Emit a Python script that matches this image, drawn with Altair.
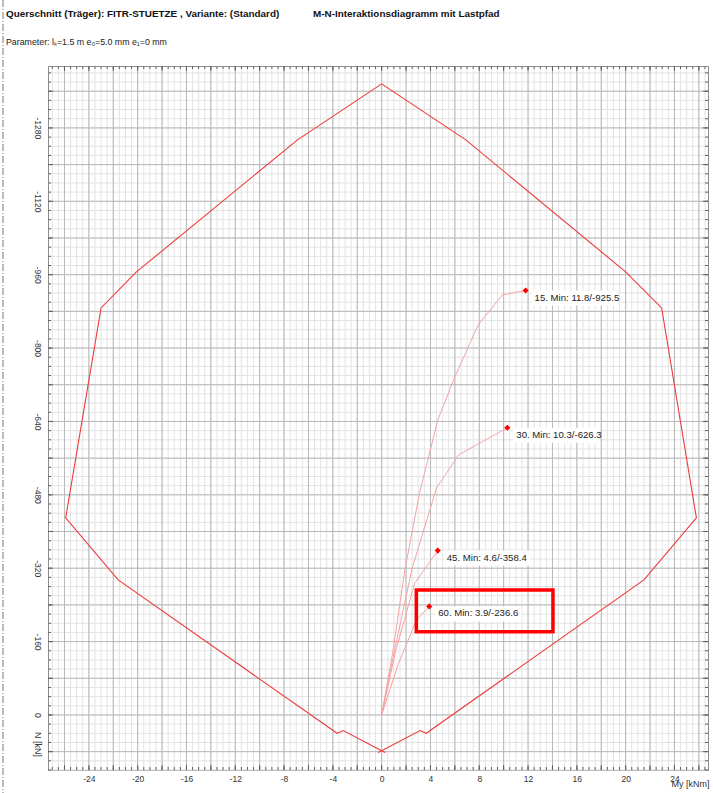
import altair as alt
import pandas as pd
import numpy as np

# ---------------- text ----------------
title_left = "Querschnitt (Träger):  FITR-STUETZE , Variante: (Standard)"
title_right = "M-N-Interaktionsdiagramm mit Lastpfad"
subtitle = "Parameter: lₖ=1.5 m  e₀=5.0 mm  e₁=0 mm"

# ---------------- axes ----------------
x_tick_labels = [-24, -20, -16, -12, -8, -4, 0, 4, 8, 12, 16, 20, 24]
y_tick_labels = [-1280, -1120, -960, -800, -640, -480, -320, -160, 0]
x_domain = [-27.35, 26.75]
y_domain = [-1415, 120]
x_minor_step, x_major_step = 0.5, 2
y_minor_step, y_major_step = 20, 80

# ---------------- interaction diagram (two halves from the apex) ----------------
left_M = [0.0, -6.9, -20.1, -23.0, -25.9, -21.6, -3.65, -3.15, 0.0, 0.3]
left_N = [-1376, -1254, -966, -887.5, -429.6, -294.4, 40, 34, 78, 82]
right_M = [0.0, 6.9, 20.0, 22.95, 25.8, 21.5, 3.65, 3.15, 0.0, -0.3]
right_N = [-1376, -1254, -966, -887.5, -429.6, -294.4, 40, 34, 78, 82]

# ---------------- load paths ----------------
path15_M = [0, 0.9, 1.9, 3.1, 4.6, 6.0, 7.9, 9.9, 11.8]
path15_N = [0, -135, -316, -483, -643, -737, -850, -916, -925.5]
path30_M = [0, 1.05, 2.5, 4.5, 6.3, 10.3]
path30_N = [0, -140, -320, -495, -567, -626.3]
path45_M = [0, 1.15, 2.7, 4.6]
path45_N = [0, -140, -287, -358.4]
path60_M = [0, 1.35, 2.85, 3.9]
path60_N = [0, -110, -207, -236.6]

end_ids = ["15", "30", "45", "60"]
end_M = [11.8, 10.3, 4.6, 3.9]
end_N = [-925.5, -626.3, -358.4, -236.6]

# highlight box (data units)
box_M = [2.84, 14.04]
box_N = [-272.6, -181.6]

W, H = 660, 704

# ---------------- frames ----------------
poly = pd.concat([
    pd.DataFrame({"M": left_M, "N": left_N, "side": "L", "o": range(len(left_M))}),
    pd.DataFrame({"M": right_M, "N": right_N, "side": "R", "o": range(len(right_M))}),
])
paths = pd.concat([
    pd.DataFrame({"M": m, "N": n, "pid": pid, "o": range(len(m))})
    for pid, m, n in [("15", path15_M, path15_N), ("30", path30_M, path30_N),
                      ("45", path45_M, path45_N), ("60", path60_M, path60_N)]
])
ends = pd.DataFrame({"M": end_M, "N": end_N, "pid": end_ids})
ends["label"] = [f"{i}. Min: {m}/{n}" for i, m, n in zip(end_ids, end_M, end_N)]
box = pd.DataFrame({"M0": [box_M[0]], "M1": [box_M[1]], "N0": [box_N[0]], "N1": [box_N[1]]})

x_minor = pd.DataFrame({"v": np.arange(-27, 26.6, x_minor_step)})
x_major = pd.DataFrame({"v": np.arange(-26, 26.1, x_major_step)})
y_minor = pd.DataFrame({"v": np.arange(-1400, 121, y_minor_step)})
y_major = pd.DataFrame({"v": np.arange(-1360, 81, y_major_step)})

xscale = alt.Scale(domain=x_domain, nice=False, zero=False)
yscale = alt.Scale(domain=y_domain, nice=False, zero=False, reverse=True)

FONT = "Liberation Sans"
xaxis = alt.Axis(values=x_tick_labels, grid=False, ticks=False, tickSize=0, domain=False,
                 labelFont=FONT, labelFontSize=8.5, labelColor="#333", labelPadding=4,
                 labelExpr="'' + datum.value", labelFlush=False,
                 title="My [kNm]", titleFont=FONT, titleFontSize=9, titleFontWeight="normal",
                 titleColor="#333", titleX=642, titleY=13, titleAlign="center",
                 titleBaseline="middle")
yaxis = alt.Axis(values=y_tick_labels, grid=False, ticks=False, tickSize=0, domain=False,
                 labelFont=FONT, labelFontSize=8.5, labelColor="#333", labelPadding=11,
                 labelAngle=90, labelAlign="center", labelBaseline="middle",
                 labelExpr="'' + datum.value", labelFlush=False,
                 title="N [kN]", titleFont=FONT, titleFontSize=9, titleFontWeight="normal",
                 titleColor="#333", titleAngle=90, titleX=-11, titleY=678,
                 titleAlign="center", titleBaseline="middle")


def X(f, **kw):
    return alt.X(f, type="quantitative", scale=xscale, axis=xaxis, **kw)


def Y(f, **kw):
    return alt.Y(f, type="quantitative", scale=yscale, axis=yaxis, **kw)


grid_xmin = alt.Chart(x_minor).mark_rule(color="#e3e3e3", strokeWidth=1).encode(x=X("v"))
grid_ymin = alt.Chart(y_minor).mark_rule(color="#e3e3e3", strokeWidth=1).encode(y=Y("v"))
grid_xmaj = alt.Chart(x_major).mark_rule(color="#b8b8b8", strokeWidth=1).encode(x=X("v"))
grid_ymaj = alt.Chart(y_major).mark_rule(color="#b8b8b8", strokeWidth=1).encode(y=Y("v"))

tick_color = "#606060"
ticks = []
for df, size in [(x_minor, 3), (x_major, 5)]:
    ticks.append(alt.Chart(df).mark_rule(color=tick_color).encode(
        x=X("v"), y=alt.value(H), y2=alt.value(H - size)))
    ticks.append(alt.Chart(df).mark_rule(color=tick_color).encode(
        x=X("v"), y=alt.value(0), y2=alt.value(size)))
for df, size in [(y_minor, 3), (y_major, 5)]:
    ticks.append(alt.Chart(df).mark_rule(color=tick_color).encode(
        y=Y("v"), x=alt.value(0), x2=alt.value(size)))
    ticks.append(alt.Chart(df).mark_rule(color=tick_color).encode(
        y=Y("v"), x=alt.value(W), x2=alt.value(W - size)))

poly_layer = alt.Chart(poly).mark_line(color="#ec3b3b", strokeWidth=1.1).encode(
    x=X("M"), y=Y("N"), detail="side:N", order="o:Q")

path_layer = alt.Chart(paths).mark_line(color="#f5a3a3", strokeWidth=1).encode(
    x=X("M"), y=Y("N"), detail="pid:N", order="o:Q")

box_layer = alt.Chart(box).mark_rect(fillOpacity=0, stroke="#ff0000", strokeWidth=3.5).encode(
    x=X("M0"), x2=alt.X2("M1"), y=Y("N0"), y2=alt.Y2("N1"))

label_bg = alt.Chart(ends).mark_rect(color="white", xOffset=6, x2Offset=92,
                                     yOffset=0, y2Offset=15).encode(
    x=X("M"), x2=alt.X2("M"), y=Y("N"), y2=alt.Y2("N"))

label_text = alt.Chart(ends).mark_text(align="left", baseline="middle", dx=9, dy=7,
                                       font=FONT, fontSize=9.6, color="#222").encode(
    x=X("M"), y=Y("N"), text="label:N")

markers = alt.Chart(ends).mark_point(shape="diamond", filled=True, color="#ff0000",
                                     size=38, opacity=1).encode(x=X("M"), y=Y("N"))

one = alt.Data(values=[{"a": 1}])
t1 = alt.Chart(pd.DataFrame({"t": [title_left]})).mark_text(
    align="left", baseline="middle", font=FONT, fontSize=9.9, fontWeight="bold",
    color="#111").encode(x=alt.value(-42), y=alt.value(-52), text="t:N")
t2 = alt.Chart(pd.DataFrame({"t": [title_right]})).mark_text(
    align="left", baseline="middle", font=FONT, fontSize=9.9, fontWeight="bold",
    color="#111").encode(x=alt.value(265), y=alt.value(-52), text="t:N")
t3 = alt.Chart(pd.DataFrame({"t": [subtitle]})).mark_text(
    align="left", baseline="middle", font=FONT, fontSize=8.8, color="#222").encode(
    x=alt.value(-42), y=alt.value(-24), text="t:N")
frame = alt.Chart(one).mark_rule(color="#777", strokeWidth=1, strokeDash=[7, 2, 1, 2]).encode(
    x=alt.value(-45), y=alt.value(-66), y2=alt.value(H + 23))

chart = alt.layer(
    grid_xmin, grid_ymin, grid_xmaj, grid_ymaj, *ticks,
    poly_layer, path_layer, box_layer, label_bg, label_text, markers,
    t1, t2, t3, frame,
).properties(
    width=W, height=H,
    autosize=alt.AutoSizeParams(type="none"),
    padding={"left": 48, "top": 66, "right": 5, "bottom": 23},
    background="white",
).configure_view(stroke="#8c8c8c", strokeWidth=1)

chart.save("out.html", embed_options={"renderer": "svg", "actions": False})
